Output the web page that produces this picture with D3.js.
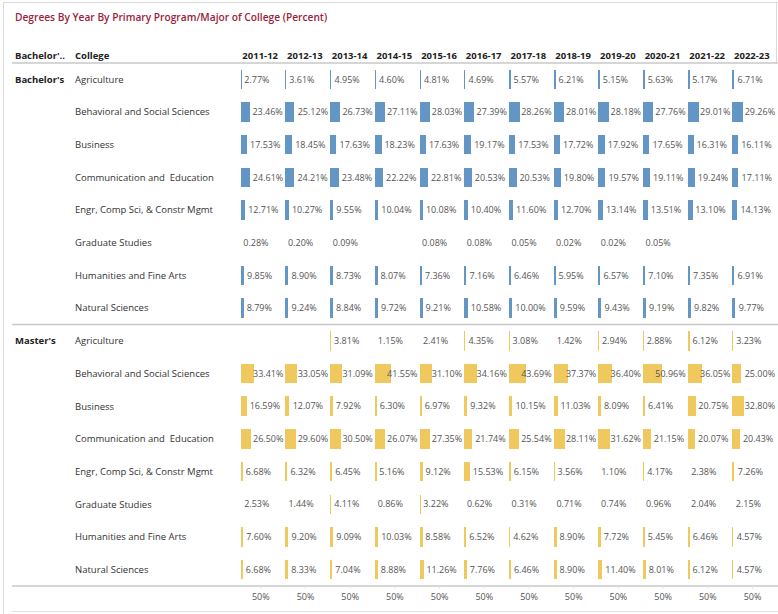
<!DOCTYPE html>
<html>
<head>
<meta charset="utf-8">
<script src="https://cdn.jsdelivr.net/npm/d3@7"></script>
<style>
  body { margin: 0; background: #fff; }
  svg { display: block; }
  text { font-family: "Open Sans", sans-serif; }
</style>
</head>
<body>
<div id="chart"></div>
<script>
var title = "Degrees By Year By Primary Program/Major of College (Percent)";
var years = ["2011-12", "2012-13", "2013-14", "2014-15", "2015-16", "2016-17", "2017-18", "2018-19", "2019-20", "2020-21", "2021-22", "2022-23"];
var degrees = ["Bachelor's", "Master's"];
var colleges = ["Agriculture", "Behavioral and Social Sciences", "Business", "Communication and  Education",
  "Engr, Comp Sci, & Constr Mgmt", "Graduate Studies", "Humanities and Fine Arts", "Natural Sciences"];

var bachelors = [
  [2.77, 3.61, 4.95, 4.60, 4.81, 4.69, 5.57, 6.21, 5.15, 5.63, 5.17, 6.71],
  [23.46, 25.12, 26.73, 27.11, 28.03, 27.39, 28.26, 28.01, 28.18, 27.76, 29.01, 29.26],
  [17.53, 18.45, 17.63, 18.23, 17.63, 19.17, 17.53, 17.72, 17.92, 17.65, 16.31, 16.11],
  [24.61, 24.21, 23.48, 22.22, 22.81, 20.53, 20.53, 19.80, 19.57, 19.11, 19.24, 17.11],
  [12.71, 10.27, 9.55, 10.04, 10.08, 10.40, 11.60, 12.70, 13.14, 13.51, 13.10, 14.13],
  [0.28, 0.20, 0.09, null, 0.08, 0.08, 0.05, 0.02, 0.02, 0.05, null, null],
  [9.85, 8.90, 8.73, 8.07, 7.36, 7.16, 6.46, 5.95, 6.57, 7.10, 7.35, 6.91],
  [8.79, 9.24, 8.84, 9.72, 9.21, 10.58, 10.00, 9.59, 9.43, 9.19, 9.82, 9.77]
];
var masters = [
  [null, null, 3.81, 1.15, 2.41, 4.35, 3.08, 1.42, 2.94, 2.88, 6.12, 3.23],
  [33.41, 33.05, 31.09, 41.55, 31.10, 34.16, 43.69, 37.37, 36.40, 50.96, 36.05, 25.00],
  [16.59, 12.07, 7.92, 6.30, 6.97, 9.32, 10.15, 11.03, 8.09, 6.41, 20.75, 32.80],
  [26.50, 29.60, 30.50, 26.07, 27.35, 21.74, 25.54, 28.11, 31.62, 21.15, 20.07, 20.43],
  [6.68, 6.32, 6.45, 5.16, 9.12, 15.53, 6.15, 3.56, 1.10, 4.17, 2.38, 7.26],
  [2.53, 1.44, 4.11, 0.86, 3.22, 0.62, 0.31, 0.71, 0.74, 0.96, 2.04, 2.15],
  [7.60, 9.20, 9.09, 10.03, 8.58, 6.52, 4.62, 8.90, 7.72, 5.45, 6.46, 4.57],
  [6.68, 8.33, 7.04, 8.88, 11.26, 7.76, 6.46, 8.90, 11.40, 8.01, 6.12, 4.57]
];
var axisTicks = [50];
var colors = { "Bachelor's": "#6396c5", "Master's": "#f0c95e" };

var W = 778, H = 614;
var tableTop = 63, tableBottom = 586;
var firstBar = 240.7, colW = 44.7;

// flatten into cells
var rows = [];
degrees.forEach(function (deg, di) {
  var vals = di === 0 ? bachelors : masters;
  colleges.forEach(function (col, ci) {
    rows.push({ degree: deg, college: col, first: ci === 0, values: vals[ci] });
  });
});

var svg = d3.select("#chart").append("svg")
  .attr("width", W).attr("height", H);

var xCol = d3.scaleBand().domain(years).range([firstBar, firstBar + colW * years.length]);
var y = d3.scaleBand().domain(d3.range(rows.length)).range([tableTop, tableBottom]);
var xVal = d3.scaleLinear().domain([0, 114]).range([0, colW]);
var barH = 19.5;

// frame
svg.append("line").attr("x1", 3.5).attr("x2", 3.5).attr("y1", 2).attr("y2", H)
  .style("stroke", "#d9d9d9");
svg.append("line").attr("x1", 3.5).attr("x2", W).attr("y1", 2.5).attr("y2", 2.5)
  .style("stroke", "#d9d9d9");
svg.append("line").attr("x1", 776.5).attr("x2", 776.5).attr("y1", 2).attr("y2", tableTop)
  .style("stroke", "#d9d9d9");

svg.append("text")
  .attr("x", 15).attr("y", 21)
  .style("font-size", "10.2px").style("font-weight", "600")
  .style("fill", "#9b1d3b")
  .text(title);

// header
var header = svg.append("g").style("font-size", "9.5px").style("font-weight", "700").style("fill", "#222");
header.append("text").attr("x", 15).attr("y", 59).text("Bachelor'..");
header.append("text").attr("x", 75).attr("y", 59).text("College");
header.selectAll(".year").data(years).enter().append("text")
  .attr("class", "year")
  .attr("x", function (d) { return xCol(d) + 19.5; })
  .attr("y", 59)
  .style("text-anchor", "middle")
  .text(function (d) { return d; });

// rules
[tableTop, y(colleges.length), tableBottom].forEach(function (yy) {
  svg.append("line").attr("x1", 12).attr("x2", W).attr("y1", yy).attr("y2", yy)
    .style("stroke", "#c8c8c8").style("stroke-width", 1.5);
});
svg.append("line").attr("x1", 12).attr("x2", W).attr("y1", 611.5).attr("y2", 611.5)
  .style("stroke", "#e0e0e0");

// row headers
var rowG = svg.selectAll(".row").data(rows).enter().append("g")
  .attr("class", "row")
  .attr("transform", function (d, i) { return "translate(0," + (y(i) + y.bandwidth() / 2) + ")"; });

rowG.filter(function (d) { return d.first; }).append("text")
  .attr("x", 15).attr("dy", "0.35em")
  .style("font-size", "9.5px").style("font-weight", "700").style("fill", "#222")
  .text(function (d) { return d.degree; });

rowG.append("text")
  .attr("x", 75).attr("dy", "0.35em")
  .style("font-size", "9.5px").style("fill", "#333")
  .style("white-space", "pre")
  .text(function (d) { return d.college; });

// cells
var cells = rowG.selectAll(".cell")
  .data(function (d) {
    return d.values.map(function (v, j) { return { degree: d.degree, year: years[j], value: v }; })
      .filter(function (c) { return c.value !== null; });
  })
  .enter().append("g").attr("class", "cell");

// pixel widths are floored, so bars thinner than a pixel vanish
cells.append("rect")
  .attr("x", function (d) { return Math.round(xCol(d.year)); })
  .attr("y", -barH / 2)
  .attr("width", function (d) { return Math.floor(xVal(d.value)); })
  .attr("height", barH)
  .style("shape-rendering", "crispEdges")
  .style("fill", function (d) { return colors[d.degree]; });

cells.append("text")
  .attr("dy", "0.35em")
  .style("font-size", "9px").style("fill", "#555")
  .text(function (d) { return d.value.toFixed(2) + "%"; })
  .attr("x", function (d) {
    var w = this.getComputedTextLength();
    var x0 = xCol(d.year);
    return Math.min(x0 + xVal(d.value) + 2.5, x0 + colW - 2 - w);
  });

// bottom axes, one per column
years.forEach(function (yr) {
  var sc = d3.scaleLinear().domain([0, 114]).range([xCol(yr), xCol(yr) + colW]);
  var ax = svg.append("g")
    .attr("class", "x axis")
    .attr("transform", "translate(0," + tableBottom + ")")
    .call(d3.axisBottom(sc).tickValues(axisTicks).tickSize(3)
      .tickFormat(function (d) { return d + "%"; }));
  ax.select(".domain").remove();
  ax.selectAll("line").style("stroke", "#e6e6e6");
  ax.selectAll("text").style("font-size", "9px").style("fill", "#555")
    .style("font-family", "'Open Sans', sans-serif").attr("y", 8);
});
</script>
</body>
</html>
